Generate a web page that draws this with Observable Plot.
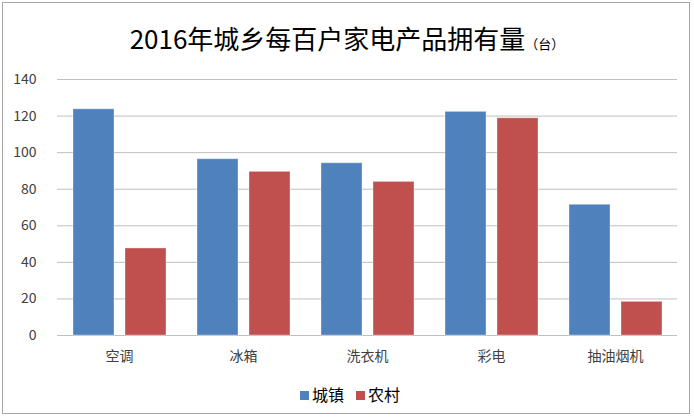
<!DOCTYPE html>
<html><head><meta charset="utf-8">
<script src="https://cdn.jsdelivr.net/npm/d3@7"></script>
<script src="https://cdn.jsdelivr.net/npm/@observablehq/plot@0.6"></script>
<style>
body{margin:0;background:#fff;font-family:"Noto Sans CJK SC",sans-serif;}
#wrap{position:relative;width:694px;height:418px;overflow:hidden;background:#fff;}
#frame{position:absolute;left:2px;top:2px;width:686px;height:410px;border:1.5px solid #a6a6a6;pointer-events:none;}
#title{position:absolute;left:0;top:25px;width:694px;height:26px;line-height:26px;text-align:center;font-size:26px;color:#000;white-space:nowrap;}
#title small{font-size:13px;}
#chart{position:absolute;left:0;top:60px;}
#legend{position:absolute;left:300px;top:384px;height:20px;line-height:20px;font-size:16px;color:#000;white-space:nowrap;}
.sw{display:inline-block;width:9px;height:9px;margin-right:3px;vertical-align:middle;position:relative;top:-1px;}
.item{display:inline-block;margin-right:12px;}
</style>
</head><body>
<div id="wrap">
  <div id="title">2016年城乡每百户家电产品拥有量<small>（台）</small></div>
  <div id="chart"></div>
  <div id="legend"></div>
  <div id="frame"></div>
</div>
<script>
const categories = ["空调", "冰箱", "洗衣机", "彩电", "抽油烟机"];
const seriesNames = ["城镇", "农村"];
const urban = [123.7, 96.4, 94.2, 122.3, 71.5];
const rural = [47.6, 89.5, 84.0, 118.8, 18.4];
const yTicks = [0, 20, 40, 60, 80, 100, 120, 140];
const colors = ["#4F81BD", "#C0504D"];

const data = [];
categories.forEach((c, i) => {
  data.push({category: c, series: seriesNames[0], value: urban[i]});
  data.push({category: c, series: seriesNames[1], value: rural[i]});
});

const font = '"Noto Sans CJK SC", sans-serif';
const chart = Plot.plot({
  width: 694,
  height: 310,
  marginLeft: 57,
  marginRight: 17,
  marginTop: 19,
  marginBottom: 35,
  style: {fontFamily: font, fontSize: "14px", color: "#404040", background: "transparent"},
  fx: {domain: categories, padding: 0, axis: "bottom", label: null, tickSize: 0, tickPadding: 16},
  x: {domain: seriesNames, axis: null, paddingInner: 0.22, paddingOuter: 0.30},
  y: {domain: [0, 140], ticks: yTicks, label: null, tickSize: 0, tickPadding: 21},
  color: {domain: seriesNames, range: colors},
  marks: [
    Plot.ruleY(yTicks, {stroke: "#bfbfbf", strokeWidth: 1}),
    Plot.barY(data, {fx: "category", x: "series", y: "value", fill: "series", stroke: "#ffffff", strokeOpacity: 0.35, strokeWidth: 1})
  ]
});
document.getElementById("chart").appendChild(chart);

const legend = document.getElementById("legend");
seriesNames.forEach((s, i) => {
  const item = document.createElement("span");
  item.className = "item";
  const sw = document.createElement("span");
  sw.className = "sw";
  sw.style.background = colors[i];
  item.appendChild(sw);
  item.appendChild(document.createTextNode(s));
  legend.appendChild(item);
});
</script>
</body></html>
